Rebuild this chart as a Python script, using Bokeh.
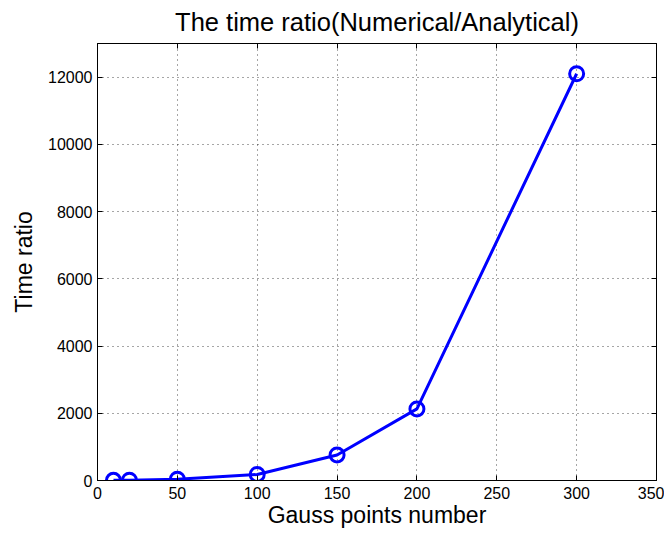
from bokeh.plotting import figure
from bokeh.models import LinearAxis, FixedTicker, Range1d
from bokeh.embed import file_html
from bokeh.resources import INLINE

gauss_points = [10, 20, 50, 100, 150, 200, 300]
time_ratio = [5, 10, 40, 180, 760, 2130, 12100]
x_ticks = [0, 50, 100, 150, 200, 250, 300, 350]
y_ticks = [0, 2000, 4000, 6000, 8000, 10000, 12000]

FONT = "Liberation Sans"

p = figure(width=664, height=530, output_backend="svg", toolbar_location=None,
           x_range=Range1d(0, 350), y_range=Range1d(0, 13000),
           min_border_left=97, min_border_right=8, min_border_top=43, min_border_bottom=45,
           title="The time ratio(Numerical/Analytical)")

p.title.text_font = FONT
p.title.text_font_size = "25.5px"
p.title.text_font_style = "normal"
p.title.align = "center"
p.title.vertical_align = "top"
p.title.text_color = "black"
p.title.standoff = 12

p.outline_line_color = "black"
p.outline_line_width = 1
p.outline_line_alpha = 1

for ax in (p.xaxis[0], p.yaxis[0]):
    ax.major_label_text_font = FONT
    ax.major_label_text_font_size = "16px"
    ax.major_label_text_color = "black"
    ax.axis_label_text_font = FONT
    ax.axis_label_text_font_size = "23px"
    ax.axis_label_text_font_style = "normal"
    ax.axis_label_text_color = "black"
    ax.major_tick_in = 5
    ax.major_tick_out = 0
    ax.minor_tick_in = 0
    ax.minor_tick_out = 0
    ax.axis_line_color = "black"
    ax.major_tick_line_color = "black"

p.xaxis.ticker = FixedTicker(ticks=x_ticks)
p.yaxis.ticker = FixedTicker(ticks=y_ticks)
p.xaxis.axis_label = "Gauss points number"
p.yaxis.axis_label = "Time ratio"
p.xaxis.major_label_standoff = 6
p.yaxis.major_label_standoff = 5
p.xaxis.axis_label_standoff = 0
p.yaxis.axis_label_standoff = 8

for loc, tick_list in (("right", y_ticks), ("above", x_ticks)):
    ax = LinearAxis(ticker=FixedTicker(ticks=tick_list))
    ax.major_label_overrides = {t: "" for t in tick_list}
    ax.major_label_standoff = 0
    ax.major_tick_in = 5
    ax.major_tick_out = 0
    ax.minor_tick_in = 0
    ax.minor_tick_out = 0
    ax.axis_line_color = "black"
    p.add_layout(ax, loc)

p.xgrid.ticker = FixedTicker(ticks=x_ticks)
p.ygrid.ticker = FixedTicker(ticks=y_ticks)
for g in (p.xgrid[0], p.ygrid[0]):
    g.grid_line_color = "black"
    g.grid_line_dash = "1 4"
    g.grid_line_width = 1
    g.grid_line_alpha = 0.7

p.line(gauss_points, time_ratio, line_color="#0000ff", line_width=3)
p.scatter(gauss_points, time_ratio, marker="circle", size=14, line_color="#0000ff",
          line_width=3, fill_color=None)

open("out.html", "w").write(file_html(p, INLINE))
